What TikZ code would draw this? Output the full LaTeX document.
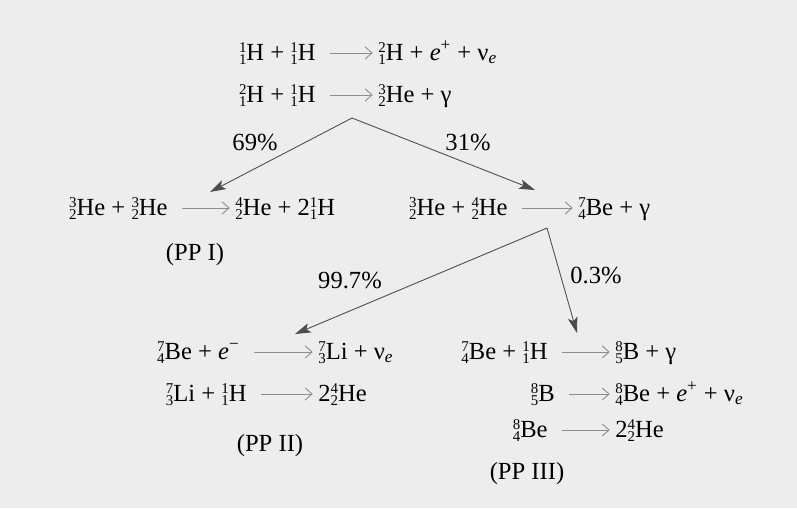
\documentclass[tikz,border=0pt]{standalone}
\usepackage{fontspec}
\setmainfont{Liberation Serif}
\usetikzlibrary{arrows.meta}
\newcommand\nucsize{\fontsize{8.5}{9}\selectfont}
\newcommand\nuc[3]{\makebox[0pt][l]{\raisebox{4.2pt}{\nucsize#1}}\raisebox{-2.8pt}{\nucsize#2}#3}
\begin{document}
\begin{tikzpicture}[x=0.02cm,y=-0.02cm,every node/.style={font=\fontsize{14}{16}\selectfont,inner sep=0pt},
  chem/.style={text height=12pt,text depth=4pt},
  rxn/.style={black!45,line width=0.5pt,-{Straight Barb[length=4pt,width=7pt]},shorten <=8pt,shorten >=3pt},
  branch/.style={black!70,line width=0.5pt,-{Stealth[length=9pt,width=5.5pt,inset=2pt]}}]
\path[use as bounding box,fill=black!7] (0,0) rectangle (797,508);
\node[chem,anchor=base east] (r1) at (316,60) {\nuc{1}{1}{H} + \nuc{1}{1}{H}};
\node[chem,anchor=base west] (p1) at (378,60) {\nuc{2}{1}{H} + \textit{e}\textsuperscript{+} + ν\textsubscript{\textit{e}}};
\node[chem,anchor=base east] (r2) at (316,102) {\nuc{2}{1}{H} + \nuc{1}{1}{H}};
\node[chem,anchor=base west] (p2) at (378,102) {\nuc{3}{2}{He} + γ};
\node[chem,anchor=base east] (r3) at (168,215) {\nuc{3}{2}{He} + \nuc{3}{2}{He}};
\node[chem,anchor=base west] (p3) at (235,215) {\nuc{4}{2}{He} + 2\nuc{1}{1}{H}};
\node[chem,anchor=base east] (r4) at (508,215) {\nuc{3}{2}{He} + \nuc{4}{2}{He}};
\node[chem,anchor=base west] (p4) at (578,215) {\nuc{7}{4}{Be} + γ};
\node[chem,anchor=base east] (r5) at (240,359) {\nuc{7}{4}{Be} + \textit{e}\textsuperscript{−}};
\node[chem,anchor=base west] (p5) at (318,359) {\nuc{7}{3}{Li} + ν\textsubscript{\textit{e}}};
\node[chem,anchor=base east] (r6) at (548,359) {\nuc{7}{4}{Be} + \nuc{1}{1}{H}};
\node[chem,anchor=base west] (p6) at (615,359) {\nuc{8}{5}{B} + γ};
\node[chem,anchor=base east] (r7) at (247,401) {\nuc{7}{3}{Li} + \nuc{1}{1}{H}};
\node[chem,anchor=base west] (p7) at (318,401) {2\nuc{4}{2}{He}};
\node[chem,anchor=base east] (r8) at (555,401) {\nuc{8}{5}{B}};
\node[chem,anchor=base west] (p8) at (615,401) {\nuc{8}{4}{Be} + \textit{e}\textsuperscript{+} + ν\textsubscript{\textit{e}}};
\node[chem,anchor=base east] (r9) at (548,437) {\nuc{8}{4}{Be}};
\node[chem,anchor=base west] (p9) at (615,437) {2\nuc{4}{2}{He}};
\node (pp1) at (195,255) {(PP I)};
\node (pp2) at (270,446) {(PP II)};
\node (pp3) at (527,474) {(PP III)};
\node (f69) at (255,142) {69\%};
\node (f31) at (468,142) {31\%};
\node (f997) at (350,280) {99.7\%};
\node (f03) at (596,275) {0.3\%};
\coordinate (a1) at (352,118);
\coordinate (t1) at (210,192);
\coordinate (t2) at (535,190);
\coordinate (a2) at (547,228);
\coordinate (t3) at (295,334);
\coordinate (t4) at (577,333);
\foreach \i in {1,...,9} \draw[rxn] (r\i) -- (p\i);
\draw[branch] (a1) -- (t1);
\draw[branch] (a1) -- (t2);
\draw[branch] (a2) -- (t3);
\draw[branch] (a2) -- (t4);
\end{tikzpicture}
\end{document}
